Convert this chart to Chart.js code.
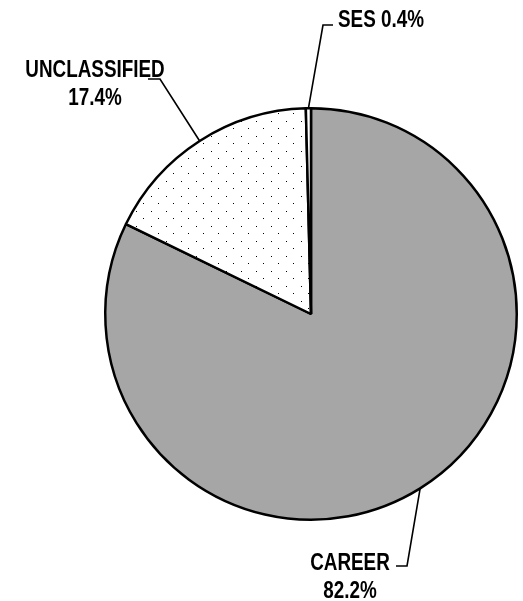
<!DOCTYPE html>
<html>
<head>
<meta charset="utf-8">
<script src="https://cdn.jsdelivr.net/npm/chart.js@4.4.0/dist/chart.umd.min.js"></script>
<style>
html,body{margin:0;padding:0;background:#fff;}
#wrap{position:relative;width:523px;height:601px;}
</style>
</head>
<body>
<div id="wrap"><canvas id="c"></canvas></div>
<script>
const categories = ["CAREER", "UNCLASSIFIED", "SES"];
const values = [82.2, 17.4, 0.4];
const valueLabels = ["82.2%", "17.4%", "0.4%"];

// label layout: elbow point, end point, text anchor, alignment, lines
const labelLayout = [
  {elbow: [407, 566], end: [396, 566], text: [350, 570], align: "center", lines: ["CAREER", "82.2%"]},
  {elbow: [160, 79], end: [148, 79], text: [95, 77], align: "center", lines: ["UNCLASSIFIED", "17.4%"]},
  {elbow: [323, 25], end: [333, 25], text: [338, 27], align: "left", lines: ["SES 0.4%"]}
];

function dotPattern() {
  const t = document.createElement("canvas");
  t.width = 15; t.height = 15;
  const g = t.getContext("2d");
  g.fillStyle = "#ffffff";
  g.fillRect(0, 0, 15, 15);
  g.fillStyle = "#000000";
  g.fillRect(1, 1, 1, 1);
  g.fillRect(8, 8, 1, 1);
  return g.createPattern(t, "repeat");
}

const labelPlugin = {
  id: "leaderLabels",
  afterDraw(chart) {
    const ctx = chart.ctx;
    const meta = chart.getDatasetMeta(0);
    ctx.save();
    meta.data.forEach((arc, i) => {
      const p = arc.getProps(["x", "y", "startAngle", "endAngle", "outerRadius"], true);
      const mid = (p.startAngle + p.endAngle) / 2;
      const sx = p.x + Math.cos(mid) * p.outerRadius;
      const sy = p.y + Math.sin(mid) * p.outerRadius;
      const L = labelLayout[i];
      ctx.strokeStyle = "#000";
      ctx.lineWidth = 1.6;
      ctx.beginPath();
      ctx.moveTo(sx, sy);
      ctx.lineTo(L.elbow[0], L.elbow[1]);
      ctx.lineTo(L.end[0], L.end[1]);
      ctx.stroke();
      ctx.fillStyle = "#000";
      ctx.font = "bold 23px 'Liberation Sans', Arial, sans-serif";
      ctx.textAlign = L.align;
      ctx.textBaseline = "alphabetic";
      L.lines.forEach((ln, k) => {
        ctx.save();
        ctx.translate(L.text[0], L.text[1] + k * 28);
        ctx.scale(0.82, 1);
        ctx.fillText(ln, 0, 0);
        ctx.restore();
      });
    });
    ctx.restore();
  }
};

new Chart(document.getElementById("c"), {
  type: "pie",
  data: {
    labels: categories,
    datasets: [{
      data: values,
      backgroundColor: ["#a6a6a6", dotPattern(), "#ffffff"],
      borderColor: "#000000",
      borderWidth: 2.5
    }]
  },
  options: {
    responsive: true,
    maintainAspectRatio: false,
    animation: false,
    layout: {padding: {left: 104, right: 5, top: 107, bottom: 80}},
    plugins: {legend: {display: false}, tooltip: {enabled: false}}
  },
  plugins: [labelPlugin]
});
</script>
</body>
</html>
